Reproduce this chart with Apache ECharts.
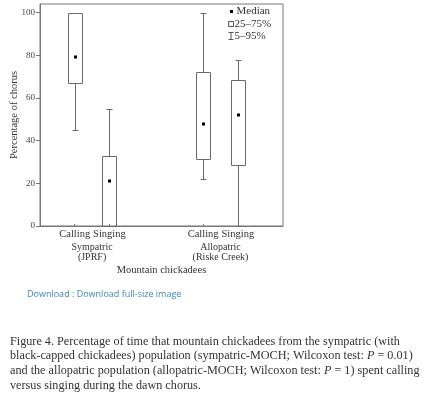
<!DOCTYPE html>
<html>
<head>
<meta charset="utf-8">
<script src="https://cdn.jsdelivr.net/npm/echarts@6/dist/echarts.min.js"></script>
<style>
    html, body { margin: 0; padding: 0; background: #fff; }
    #main { width: 430px; height: 399px; }
</style>
</head>
<body>
<div id="main"></div>
<script>
// categories and their place on the x scale
var categories = ['Calling', 'Singing', 'Calling', 'Singing'];
var xPos = [1, 2, 4.7, 5.7];
var groups = ['Sympatric\n(JPRF)', 'Allopatric\n(Riske Creek)'];
var groupPos = [1.5, 5.2];
// box values (% of chorus)
var whiskerLow = [45, 0, 22, 0];
var q1 = [67, 0, 31.5, 28.5];
var median = [79, 21, 48, 52];
var q3 = [100, 33, 72, 68.5];
var whiskerHigh = [100, 55, 100, 78];
var yTicks = [0, 20, 40, 60, 80, 100];

var serif = '"Liberation Serif", "DejaVu Serif", serif';
var lineColor = '#6a6a6a';

var boxData = [];
for (var i = 0; i < xPos.length; i++) {
    boxData.push([xPos[i], whiskerLow[i], q1[i], median[i], q3[i], whiskerHigh[i]]);
}

function px(v) {
    return Math.round(v) + 0.5;
}

function renderBox(params, api) {
    var x = px(api.coord([api.value(0), 0])[0]);
    var yLow = px(api.coord([0, api.value(1)])[1]);
    var yQ1 = px(api.coord([0, api.value(2)])[1]);
    var yMed = api.coord([0, api.value(3)])[1];
    var yQ3 = px(api.coord([0, api.value(4)])[1]);
    var yHigh = px(api.coord([0, api.value(5)])[1]);
    var half = 7, cap = 3;
    var st = { stroke: lineColor, lineWidth: 1, fill: null };
    var children = [
        { type: 'line', shape: { x1: x, y1: yLow, x2: x, y2: yQ1 }, style: st },
        { type: 'line', shape: { x1: x, y1: yQ3, x2: x, y2: yHigh }, style: st },
        { type: 'line', shape: { x1: x - cap, y1: yLow, x2: x + cap, y2: yLow }, style: st },
        { type: 'line', shape: { x1: x - cap, y1: yHigh, x2: x + cap, y2: yHigh }, style: st },
        { type: 'rect', shape: { x: x - half, y: yQ3, width: half * 2, height: yQ1 - yQ3 }, style: { stroke: lineColor, lineWidth: 1, fill: 'none' } },
        { type: 'rect', shape: { x: x - 1.5, y: Math.round(yMed) - 1.5, width: 3, height: 3 }, style: { fill: '#000' } }
    ];
    return { type: 'group', children: children };
}

var chart = echarts.init(document.getElementById('main'), null, { renderer: 'canvas' });

var capItalic = { fontFamily: serif, fontSize: 12.2, fill: '#333', fontStyle: 'italic' };

chart.setOption({
    backgroundColor: '#fff',
    animation: false,
    grid: {
        left: 40, top: 4, right: 147, bottom: 173,
        outerBoundsMode: 'none', containLabel: false,
        show: true, borderColor: '#777', borderWidth: 1, backgroundColor: 'transparent'
    },
    xAxis: [{
        type: 'value', min: 0, max: 7,
        name: 'Mountain chickadees', nameLocation: 'middle', nameGap: 39,
        nameTextStyle: { fontFamily: serif, fontSize: 10.5, color: '#333' },
        axisLine: { lineStyle: { color: '#777' } },
        axisTick: { show: true, inside: true, length: 2, customValues: xPos, lineStyle: { color: '#777' } },
        axisLabel: {
            customValues: xPos, margin: 3,
            fontFamily: serif, fontSize: 10.5, color: '#333',
            formatter: function (v) { return categories[xPos.indexOf(v)] || ''; }
        },
        splitLine: { show: false }
    }, {
        type: 'value', min: 0, max: 7, position: 'bottom',
        axisLine: { show: false }, axisTick: { show: false }, splitLine: { show: false },
        axisLabel: {
            customValues: groupPos, margin: 16, lineHeight: 10,
            fontFamily: serif, fontSize: 10, color: '#333',
            formatter: function (v) { return groups[groupPos.indexOf(v)] || ''; }
        }
    }],
    yAxis: {
        type: 'value', min: 0, max: 104, interval: 20,
        name: 'Percentage of chorus', nameLocation: 'middle', nameGap: 20,
        nameMoveOverlap: false,
        nameTextStyle: { fontFamily: serif, fontSize: 10.5, color: '#333' },
        axisLine: { show: true, lineStyle: { color: '#777' } },
        axisTick: { show: true, length: 4, customValues: yTicks, lineStyle: { color: '#777' } },
        axisLabel: { customValues: yTicks, margin: 5, fontFamily: serif, fontSize: 9, color: '#444' },
        splitLine: { show: false }
    },
    series: [{
        type: 'custom',
        renderItem: renderBox,
        data: boxData,
        encode: { x: 0, y: [1, 2, 3, 4, 5] },
        clip: false
    }],
    graphic: [
        // legend
        { type: 'rect', shape: { x: 230, y: 10, width: 3, height: 3 }, style: { fill: '#000' } },
        { type: 'text', x: 236.5, y: 11.5, style: { text: 'Median', fontFamily: serif, fontSize: 11, fill: '#333', verticalAlign: 'middle' } },
        { type: 'rect', shape: { x: 228.5, y: 21.5, width: 5, height: 5 }, style: { fill: 'none', stroke: '#555', lineWidth: 1 } },
        { type: 'text', x: 234.5, y: 24, style: { text: '25–75%', fontFamily: serif, fontSize: 11, fill: '#333', verticalAlign: 'middle' } },
        { type: 'line', shape: { x1: 231, y1: 32.5, x2: 231, y2: 39.5 }, style: { stroke: '#555', lineWidth: 1 } },
        { type: 'line', shape: { x1: 228.5, y1: 32.5, x2: 233.5, y2: 32.5 }, style: { stroke: '#555', lineWidth: 1 } },
        { type: 'line', shape: { x1: 228.5, y1: 39.5, x2: 233.5, y2: 39.5 }, style: { stroke: '#555', lineWidth: 1 } },
        { type: 'text', x: 234.5, y: 36, style: { text: '5–95%', fontFamily: serif, fontSize: 11, fill: '#333', verticalAlign: 'middle' } },
        // download link
        { type: 'text', x: 27, y: 294.5, style: { text: 'Download : Download full-size image', fontFamily: '"Open Sans", sans-serif', fontSize: 9, fill: '#3c86b4', verticalAlign: 'middle' } },
        // caption
        { type: 'text', x: 10, y: 341.5, style: { text: 'Figure 4. Percentage of time that mountain chickadees from the sympatric (with', fontFamily: serif, fontSize: 12.2, fill: '#333', verticalAlign: 'middle' } },
        { type: 'text', x: 10, y: 356, style: {
            text: 'black-capped chickadees) population (sympatric-MOCH; Wilcoxon test: {i|P} = 0.01)',
            fontFamily: serif, fontSize: 12.2, fill: '#333', verticalAlign: 'middle',
            rich: { i: capItalic }
        } },
        { type: 'text', x: 10, y: 370.5, style: {
            text: 'and the allopatric population (allopatric-MOCH; Wilcoxon test: {i|P} = 1) spent calling',
            fontFamily: serif, fontSize: 12.2, fill: '#333', verticalAlign: 'middle',
            rich: { i: capItalic }
        } },
        { type: 'text', x: 10, y: 385.5, style: { text: 'versus singing during the dawn chorus.', fontFamily: serif, fontSize: 12.2, fill: '#333', verticalAlign: 'middle' } }
    ]
});
</script>
</body>
</html>
